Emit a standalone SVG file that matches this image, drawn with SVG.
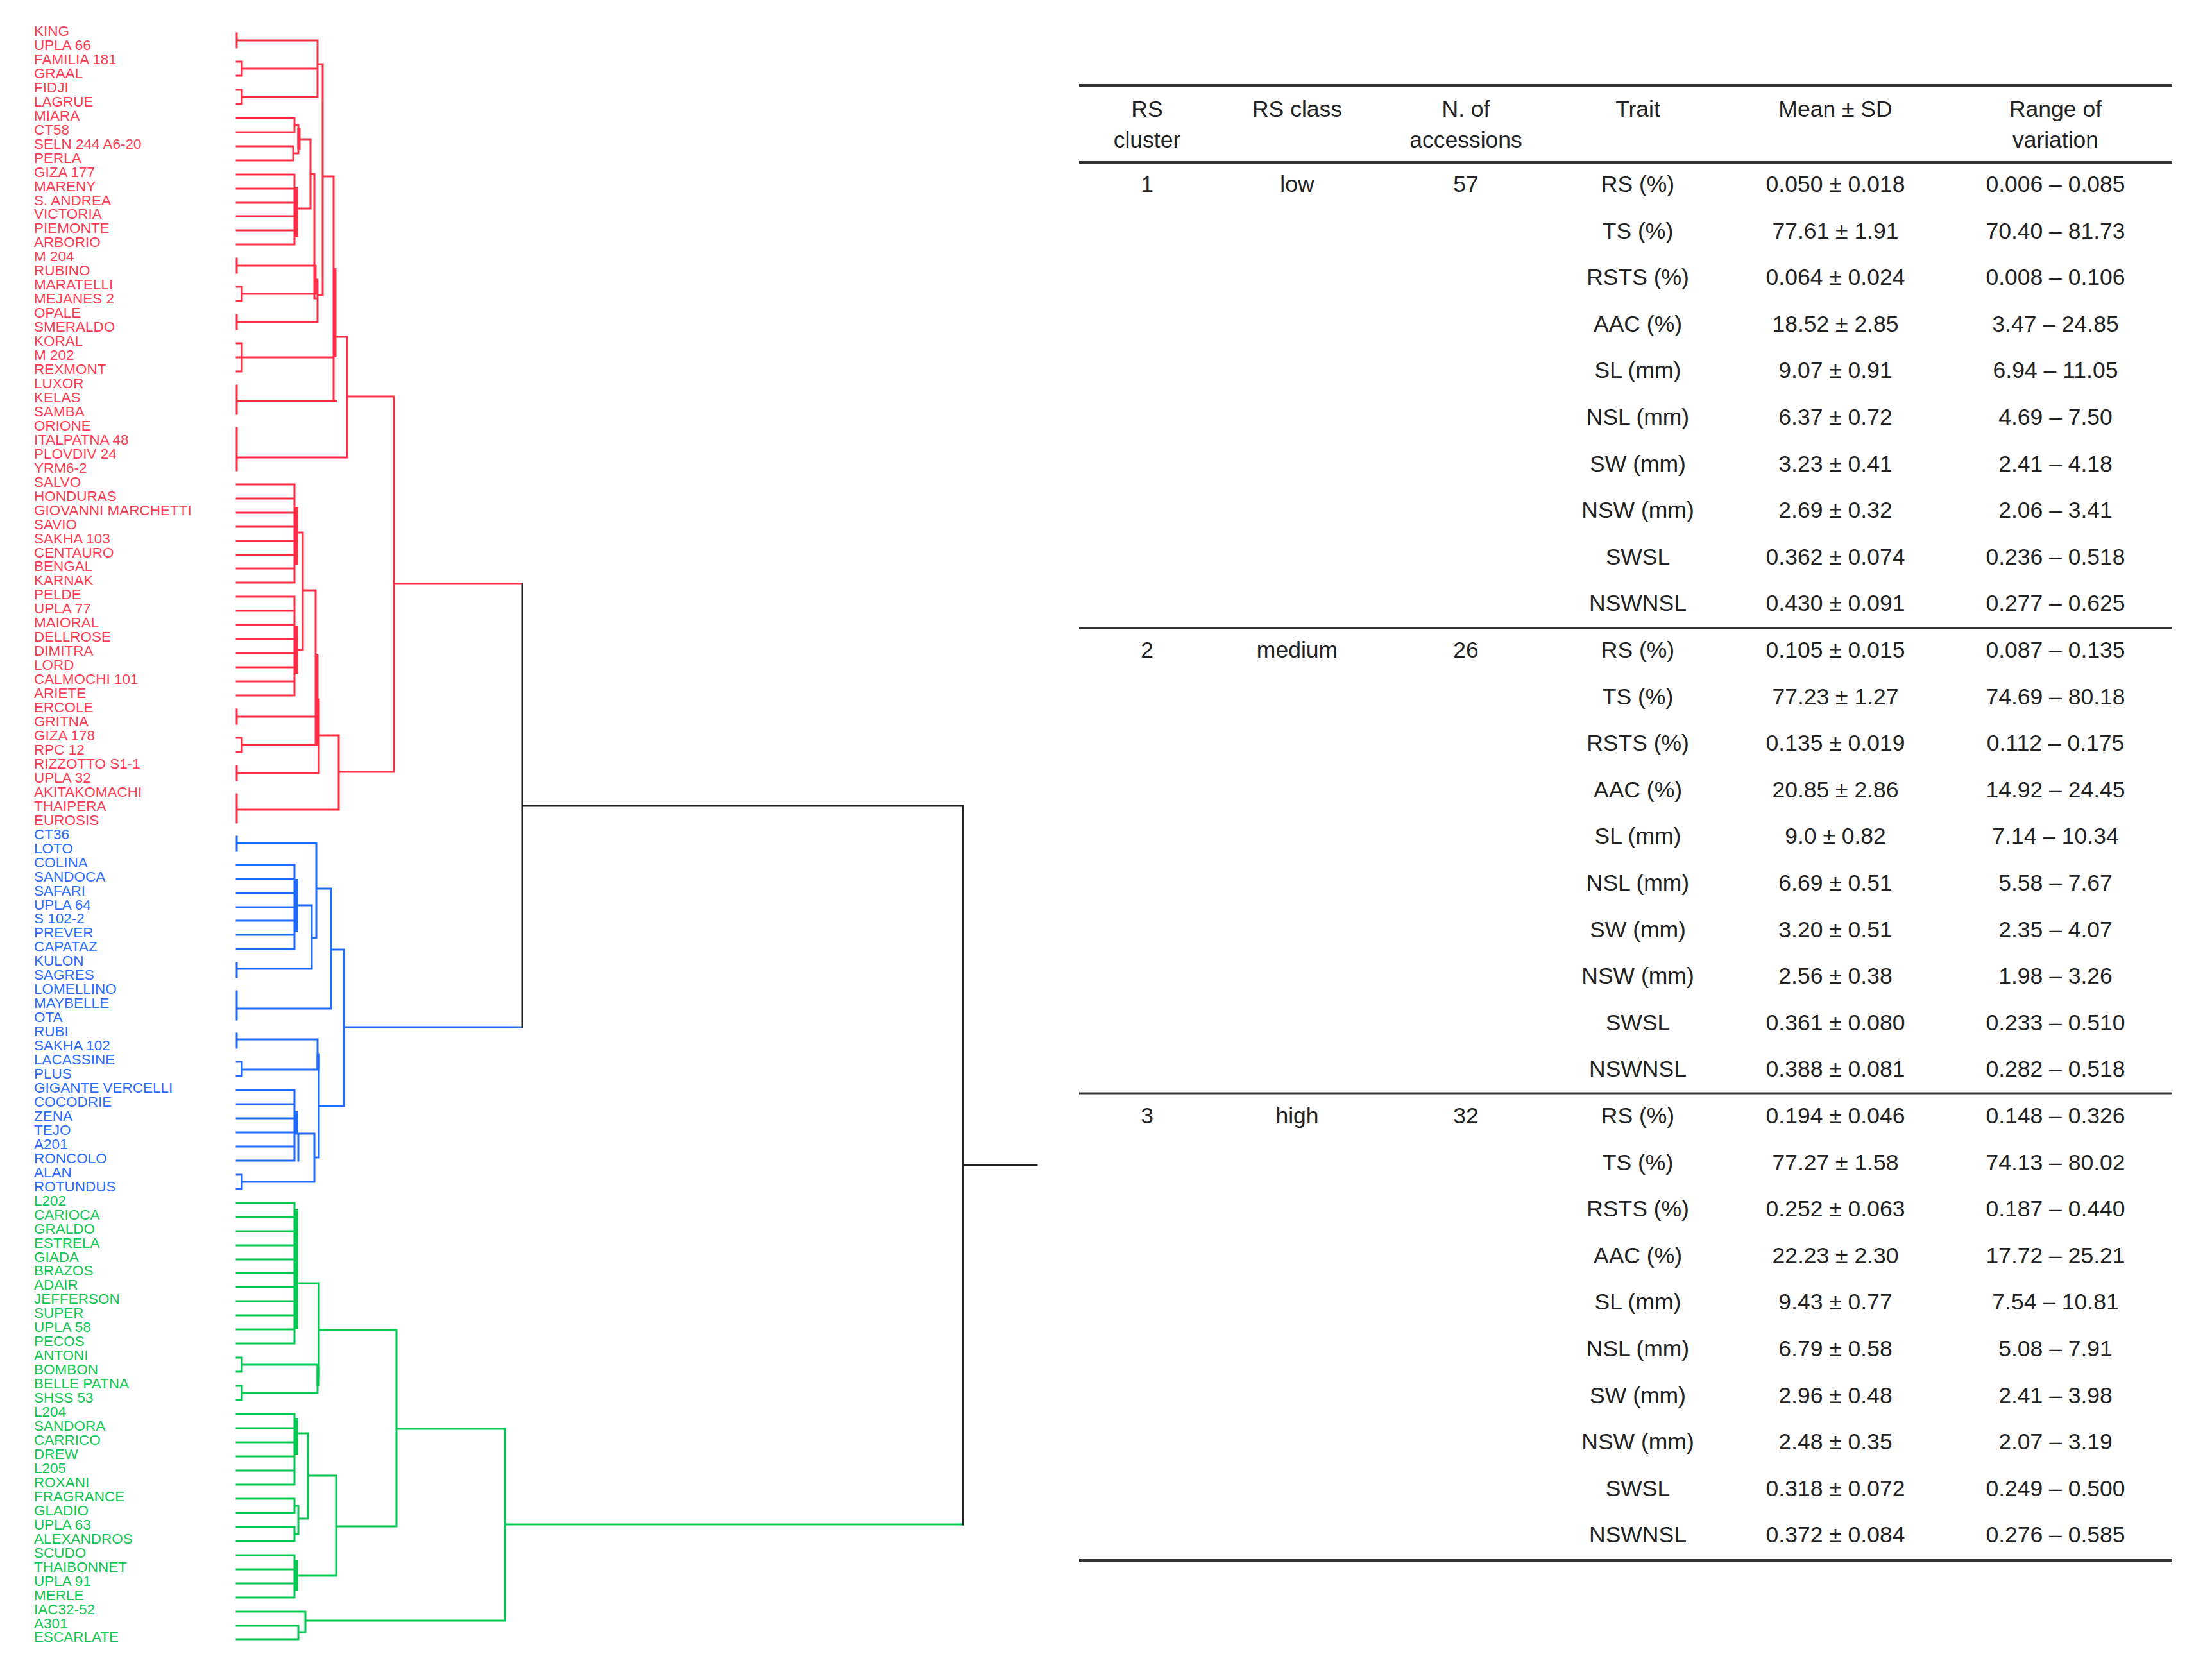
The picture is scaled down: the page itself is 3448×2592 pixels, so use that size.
<svg xmlns="http://www.w3.org/2000/svg" width="3448" height="2592" viewBox="0 0 3448 2592">
<style>
.ln{fill:none;stroke-width:3;stroke-linecap:square}
.th{fill:none;stroke-width:5}
.r{stroke:#ff2d45}.b{stroke:#1f6bff}.g{stroke:#00c850}.k{stroke:#222}
.lab{font-family:"Liberation Sans",Arial,sans-serif;font-size:22.5px}
.tr{fill:#ff3b52}.tb{fill:#2a6cff}.tg{fill:#10c850}
.tt{font-family:"Liberation Sans",Arial,sans-serif;font-size:35.5px;fill:#222;text-anchor:middle}
.rule{stroke:#333;fill:none}
</style>
<rect width="3448" height="2592" fill="#fff"/>
<g id="labels-cluster1" class="lab tr">
<text x="53" y="56">KING</text>
<text x="53" y="78">UPLA 66</text>
<text x="53" y="100">FAMILIA 181</text>
<text x="53" y="122">GRAAL</text>
<text x="53" y="144">FIDJI</text>
<text x="53" y="166">LAGRUE</text>
<text x="53" y="188">MIARA</text>
<text x="53" y="210">CT58</text>
<text x="53" y="232">SELN 244 A6-20</text>
<text x="53" y="254">PERLA</text>
<text x="53" y="276">GIZA 177</text>
<text x="53" y="298">MARENY</text>
<text x="53" y="320">S. ANDREA</text>
<text x="53" y="341">VICTORIA</text>
<text x="53" y="363">PIEMONTE</text>
<text x="53" y="385">ARBORIO</text>
<text x="53" y="407">M 204</text>
<text x="53" y="429">RUBINO</text>
<text x="53" y="451">MARATELLI</text>
<text x="53" y="473">MEJANES 2</text>
<text x="53" y="495">OPALE</text>
<text x="53" y="517">SMERALDO</text>
<text x="53" y="539">KORAL</text>
<text x="53" y="561">M 202</text>
<text x="53" y="583">REXMONT</text>
<text x="53" y="605">LUXOR</text>
<text x="53" y="627">KELAS</text>
<text x="53" y="649">SAMBA</text>
<text x="53" y="671">ORIONE</text>
<text x="53" y="693">ITALPATNA 48</text>
<text x="53" y="715">PLOVDIV 24</text>
<text x="53" y="737">YRM6-2</text>
<text x="53" y="759">SALVO</text>
<text x="53" y="781">HONDURAS</text>
<text x="53" y="803">GIOVANNI MARCHETTI</text>
<text x="53" y="825">SAVIO</text>
<text x="53" y="847">SAKHA 103</text>
<text x="53" y="869">CENTAURO</text>
<text x="53" y="890">BENGAL</text>
<text x="53" y="912">KARNAK</text>
<text x="53" y="934">PELDE</text>
<text x="53" y="956">UPLA 77</text>
<text x="53" y="978">MAIORAL</text>
<text x="53" y="1000">DELLROSE</text>
<text x="53" y="1022">DIMITRA</text>
<text x="53" y="1044">LORD</text>
<text x="53" y="1066">CALMOCHI 101</text>
<text x="53" y="1088">ARIETE</text>
<text x="53" y="1110">ERCOLE</text>
<text x="53" y="1132">GRITNA</text>
<text x="53" y="1154">GIZA 178</text>
<text x="53" y="1176">RPC 12</text>
<text x="53" y="1198">RIZZOTTO S1-1</text>
<text x="53" y="1220">UPLA 32</text>
<text x="53" y="1242">AKITAKOMACHI</text>
<text x="53" y="1264">THAIPERA</text>
<text x="53" y="1286">EUROSIS</text>
</g>
<g id="labels-cluster2" class="lab tb">
<text x="53" y="1308">CT36</text>
<text x="53" y="1330">LOTO</text>
<text x="53" y="1352">COLINA</text>
<text x="53" y="1374">SANDOCA</text>
<text x="53" y="1396">SAFARI</text>
<text x="53" y="1418">UPLA 64</text>
<text x="53" y="1439">S 102-2</text>
<text x="53" y="1461">PREVER</text>
<text x="53" y="1483">CAPATAZ</text>
<text x="53" y="1505">KULON</text>
<text x="53" y="1527">SAGRES</text>
<text x="53" y="1549">LOMELLINO</text>
<text x="53" y="1571">MAYBELLE</text>
<text x="53" y="1593">OTA</text>
<text x="53" y="1615">RUBI</text>
<text x="53" y="1637">SAKHA 102</text>
<text x="53" y="1659">LACASSINE</text>
<text x="53" y="1681">PLUS</text>
<text x="53" y="1703">GIGANTE VERCELLI</text>
<text x="53" y="1725">COCODRIE</text>
<text x="53" y="1747">ZENA</text>
<text x="53" y="1769">TEJO</text>
<text x="53" y="1791">A201</text>
<text x="53" y="1813">RONCOLO</text>
<text x="53" y="1835">ALAN</text>
<text x="53" y="1857">ROTUNDUS</text>
</g>
<g id="labels-cluster3" class="lab tg">
<text x="53" y="1879">L202</text>
<text x="53" y="1901">CARIOCA</text>
<text x="53" y="1923">GRALDO</text>
<text x="53" y="1945">ESTRELA</text>
<text x="53" y="1967">GIADA</text>
<text x="53" y="1988">BRAZOS</text>
<text x="53" y="2010">ADAIR</text>
<text x="53" y="2032">JEFFERSON</text>
<text x="53" y="2054">SUPER</text>
<text x="53" y="2076">UPLA 58</text>
<text x="53" y="2098">PECOS</text>
<text x="53" y="2120">ANTONI</text>
<text x="53" y="2142">BOMBON</text>
<text x="53" y="2164">BELLE PATNA</text>
<text x="53" y="2186">SHSS 53</text>
<text x="53" y="2208">L204</text>
<text x="53" y="2230">SANDORA</text>
<text x="53" y="2252">CARRICO</text>
<text x="53" y="2274">DREW</text>
<text x="53" y="2296">L205</text>
<text x="53" y="2318">ROXANI</text>
<text x="53" y="2340">FRAGRANCE</text>
<text x="53" y="2362">GLADIO</text>
<text x="53" y="2384">UPLA 63</text>
<text x="53" y="2406">ALEXANDROS</text>
<text x="53" y="2428">SCUDO</text>
<text x="53" y="2450">THAIBONNET</text>
<text x="53" y="2472">UPLA 91</text>
<text x="53" y="2494">MERLE</text>
<text x="53" y="2516">IAC32-52</text>
<text x="53" y="2538">A301</text>
<text x="53" y="2559">ESCARLATE</text>
</g>
<g id="connectors">
<path class="ln r" d="M369,52V74M369,63H495M369,96H377V118H369M377,107H495M369,140H377V162H369M377,151H495M495,63V151M495,100H503
M369,184H459M369,206H459M369,228H457M369,250H457M459,184V206M457,228V250M459,195H465M457,239H465M465,195V239M465,217H484
M369,272H459M369,294H459M369,316H459M369,337H459M369,359H459M369,381H459M459,272V381M462,325H484
M484,217V325M484,271H490V465H495
M369,403V425M369,414H492M369,447H377V469H369M377,458H493M492,414V458M492,436H495M369,491V513M369,502H495M495,436V502
M503,100V460M495,460H503M503,275H520
M369,535H377V579H369M369,557H377M377,557H520M369,601V645M369,625H524M520,275V625
M520,525H541M369,667V733M369,713H541M541,525V713M541,618H614
M369,755H459M369,777H459M369,799H459M369,821H459M369,843H459M369,865H459M369,886H459M369,908H459M459,755V908M462,830H472
M369,930H459M369,952H459M369,974H459M369,996H459M369,1018H459M369,1040H459M369,1062H459M369,1084H459M459,930V1084M462,1013H472
M472,830V1013M472,920H492M369,1106V1128M369,1117H492M369,1150H377V1172H369M377,1161H495M369,1194V1216M369,1205H497
M492,920V1161M492,1161H495M497,1090V1205M492,1090H497M497,1146H528M369,1238V1282M369,1262H528M528,1146V1262M528,1203H614
M614,618V1203M614,910H814"/>
<path class="th r" d="M462,292V370M522,418V557M462,790V880M462,975V1050M494,1020V1160M466,200V234"/>
<path class="ln b" d="M369,1304V1326M369,1314H493
M369,1348H459M369,1370H459M369,1392H459M369,1414H459M369,1435H459M369,1457H459M369,1479H459M459,1348V1479M462,1411H486
M369,1501V1523M369,1510H486M486,1411V1510M486,1462H493M493,1314V1462M493,1385H516
M369,1545V1589M369,1572H516M516,1385V1572M516,1480H536
M369,1611V1633M369,1620H495M369,1655H377V1677H369M377,1667H497M495,1620V1667
M369,1699H459M369,1721H459M369,1743H459M369,1765H459M369,1787H459M369,1809H459M459,1699V1809M465,1767V1809M462,1767H490
M369,1831H377V1853H369M377,1842H490M490,1767V1842M490,1804H497
M497,1644V1804M495,1644H497M497,1724H536M536,1480V1724M536,1601H814"/>
<path class="th b" d="M462,1370V1452M462,1732V1766M496,1644V1667"/>
<path class="ln g" d="M369,1875H459M369,1897H459M369,1919H459M369,1941H459M369,1963H459M369,1984H459M369,2006H459M369,2028H459M369,2050H459M369,2072H459M369,2094H459M459,1875V2094M462,2000H497
M369,2116H377V2138H369M377,2127H495M369,2160H377V2182H369M377,2171H495M495,2127V2171M497,2000V2147M495,2147H497M497,2073H618
M369,2204H459M369,2226H459M369,2248H459M369,2270H459M369,2292H459M369,2314H459M459,2204V2314M462,2234H480
M369,2336H459M369,2358H459M459,2336V2358M369,2380H459M369,2402H459M459,2380V2402M459,2347H465M459,2391H465M465,2347V2391M465,2367H480
M480,2234V2367M480,2300H524
M369,2424H459M369,2446H459M369,2468H459M369,2490H459M459,2424V2490M462,2456H524
M524,2300V2456M524,2379H618M618,2073V2379M618,2227H787
M369,2512H476M369,2534H465M369,2555H465M465,2534V2555M465,2544H476M476,2512V2544M476,2526H787
M787,2227V2526M787,2376H1501"/>
<path class="th g" d="M462,1885V2072M462,2210V2268M462,2432V2480M496,2130V2160"/>
<path class="ln k" d="M814,910V1601M814,1256H1501M1501,1256V2376M1501,1816H1616"/>
</g>
<g id="table">
<path class="rule" stroke-width="4" d="M1682,133H3386M1682,253H3386M1682,2432H3386"/>
<path class="rule" stroke-width="3" d="M1682,979H3386M1682,1704H3386"/>
<g id="table-header" class="tt">
<text x="1788" y="182">RS</text><text x="1788" y="230">cluster</text>
<text x="2022" y="182">RS class</text>
<text x="2285" y="182">N. of</text><text x="2285" y="230">accessions</text>
<text x="2553" y="182">Trait</text>
<text x="2861" y="182">Mean ± SD</text>
<text x="3204" y="182">Range of</text><text x="3204" y="230">variation</text>
</g>
<g id="cluster-1" class="tt">
<text x="1788" y="299">1</text><text x="2022" y="299">low</text><text x="2285" y="299">57</text>
<text x="2553" y="299">RS (%)</text><text x="2861" y="299">0.050 ± 0.018</text><text x="3204" y="299">0.006 – 0.085</text>
<text x="2553" y="372">TS (%)</text><text x="2861" y="372">77.61 ± 1.91</text><text x="3204" y="372">70.40 – 81.73</text>
<text x="2553" y="444">RSTS (%)</text><text x="2861" y="444">0.064 ± 0.024</text><text x="3204" y="444">0.008 – 0.106</text>
<text x="2553" y="517">AAC (%)</text><text x="2861" y="517">18.52 ± 2.85</text><text x="3204" y="517">3.47 – 24.85</text>
<text x="2553" y="589">SL (mm)</text><text x="2861" y="589">9.07 ± 0.91</text><text x="3204" y="589">6.94 – 11.05</text>
<text x="2553" y="662">NSL (mm)</text><text x="2861" y="662">6.37 ± 0.72</text><text x="3204" y="662">4.69 – 7.50</text>
<text x="2553" y="735">SW (mm)</text><text x="2861" y="735">3.23 ± 0.41</text><text x="3204" y="735">2.41 – 4.18</text>
<text x="2553" y="807">NSW (mm)</text><text x="2861" y="807">2.69 ± 0.32</text><text x="3204" y="807">2.06 – 3.41</text>
<text x="2553" y="880">SWSL</text><text x="2861" y="880">0.362 ± 0.074</text><text x="3204" y="880">0.236 – 0.518</text>
<text x="2553" y="952">NSWNSL</text><text x="2861" y="952">0.430 ± 0.091</text><text x="3204" y="952">0.277 – 0.625</text>
</g>
<g id="cluster-2" class="tt">
<text x="1788" y="1025">2</text><text x="2022" y="1025">medium</text><text x="2285" y="1025">26</text>
<text x="2553" y="1025">RS (%)</text><text x="2861" y="1025">0.105 ± 0.015</text><text x="3204" y="1025">0.087 – 0.135</text>
<text x="2553" y="1098">TS (%)</text><text x="2861" y="1098">77.23 ± 1.27</text><text x="3204" y="1098">74.69 – 80.18</text>
<text x="2553" y="1170">RSTS (%)</text><text x="2861" y="1170">0.135 ± 0.019</text><text x="3204" y="1170">0.112 – 0.175</text>
<text x="2553" y="1243">AAC (%)</text><text x="2861" y="1243">20.85 ± 2.86</text><text x="3204" y="1243">14.92 – 24.45</text>
<text x="2553" y="1315">SL (mm)</text><text x="2861" y="1315">9.0 ± 0.82</text><text x="3204" y="1315">7.14 – 10.34</text>
<text x="2553" y="1388">NSL (mm)</text><text x="2861" y="1388">6.69 ± 0.51</text><text x="3204" y="1388">5.58 – 7.67</text>
<text x="2553" y="1461">SW (mm)</text><text x="2861" y="1461">3.20 ± 0.51</text><text x="3204" y="1461">2.35 – 4.07</text>
<text x="2553" y="1533">NSW (mm)</text><text x="2861" y="1533">2.56 ± 0.38</text><text x="3204" y="1533">1.98 – 3.26</text>
<text x="2553" y="1606">SWSL</text><text x="2861" y="1606">0.361 ± 0.080</text><text x="3204" y="1606">0.233 – 0.510</text>
<text x="2553" y="1678">NSWNSL</text><text x="2861" y="1678">0.388 ± 0.081</text><text x="3204" y="1678">0.282 – 0.518</text>
</g>
<g id="cluster-3" class="tt">
<text x="1788" y="1751">3</text><text x="2022" y="1751">high</text><text x="2285" y="1751">32</text>
<text x="2553" y="1751">RS (%)</text><text x="2861" y="1751">0.194 ± 0.046</text><text x="3204" y="1751">0.148 – 0.326</text>
<text x="2553" y="1824">TS (%)</text><text x="2861" y="1824">77.27 ± 1.58</text><text x="3204" y="1824">74.13 – 80.02</text>
<text x="2553" y="1896">RSTS (%)</text><text x="2861" y="1896">0.252 ± 0.063</text><text x="3204" y="1896">0.187 – 0.440</text>
<text x="2553" y="1969">AAC (%)</text><text x="2861" y="1969">22.23 ± 2.30</text><text x="3204" y="1969">17.72 – 25.21</text>
<text x="2553" y="2041">SL (mm)</text><text x="2861" y="2041">9.43 ± 0.77</text><text x="3204" y="2041">7.54 – 10.81</text>
<text x="2553" y="2114">NSL (mm)</text><text x="2861" y="2114">6.79 ± 0.58</text><text x="3204" y="2114">5.08 – 7.91</text>
<text x="2553" y="2187">SW (mm)</text><text x="2861" y="2187">2.96 ± 0.48</text><text x="3204" y="2187">2.41 – 3.98</text>
<text x="2553" y="2259">NSW (mm)</text><text x="2861" y="2259">2.48 ± 0.35</text><text x="3204" y="2259">2.07 – 3.19</text>
<text x="2553" y="2332">SWSL</text><text x="2861" y="2332">0.318 ± 0.072</text><text x="3204" y="2332">0.249 – 0.500</text>
<text x="2553" y="2404">NSWNSL</text><text x="2861" y="2404">0.372 ± 0.084</text><text x="3204" y="2404">0.276 – 0.585</text>
</g>
</g>
</svg>
